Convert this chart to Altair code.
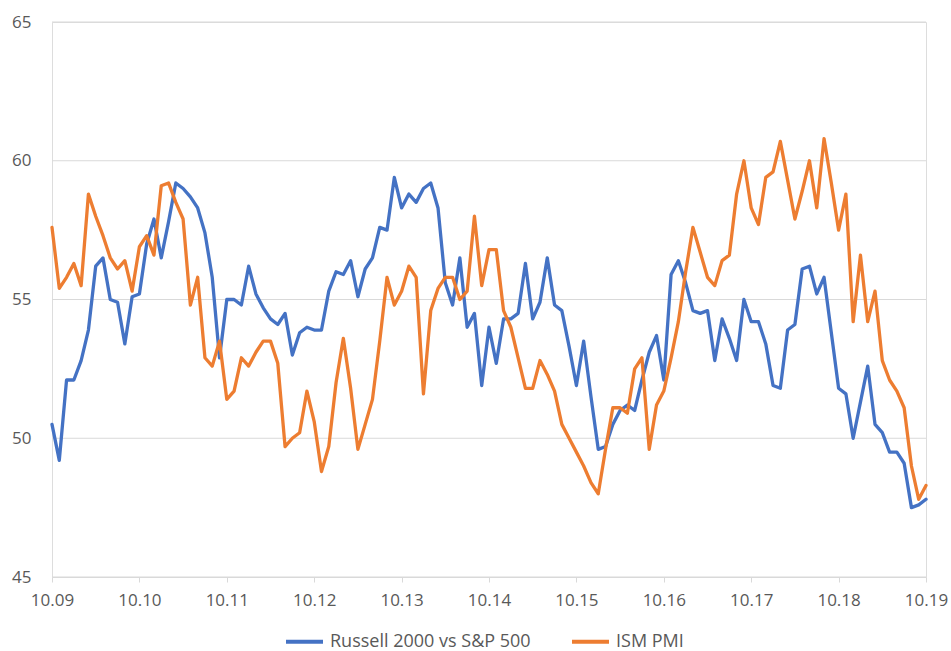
import json
import altair as alt
import pandas as pd

x_labels = ["10.09", "10.10", "10.11", "10.12", "10.13", "10.14",
            "10.15", "10.16", "10.17", "10.18", "10.19"]
series_names = ["Russell 2000 vs S&P 500", "ISM PMI"]
series_colors = ["#4472C4", "#ED7D31"]

russell = [
    50.5, 49.2, 52.1, 52.1, 52.8, 53.9, 56.2, 56.5, 55.0, 54.9, 53.4, 55.1,
    55.2, 57.0, 57.9, 56.5, 57.8, 59.2, 59.0, 58.7, 58.3, 57.4, 55.8, 52.9,
    55.0, 55.0, 54.8, 56.2, 55.2, 54.7, 54.3, 54.1, 54.5, 53.0, 53.8, 54.0,
    53.9, 53.9, 55.3, 56.0, 55.9, 56.4, 55.1, 56.1, 56.5, 57.6, 57.5, 59.4,
    58.3, 58.8, 58.5, 59.0, 59.2, 58.3, 55.6, 54.8, 56.5, 54.0, 54.5, 51.9,
    54.0, 52.7, 54.3, 54.3, 54.5, 56.3, 54.3, 54.9, 56.5, 54.8, 54.6, 53.3,
    51.9, 53.5, 51.5, 49.6, 49.7, 50.5, 51.0, 51.2, 51.0, 52.1, 53.1, 53.7,
    52.1, 55.9, 56.4, 55.6, 54.6, 54.5, 54.6, 52.8, 54.3, 53.6, 52.8, 55.0,
    54.2, 54.2, 53.4, 51.9, 51.8, 53.9, 54.1, 56.1, 56.2, 55.2, 55.8, 53.8,
    51.8, 51.6, 50.0, 51.3, 52.6, 50.5, 50.2, 49.5, 49.5, 49.1, 47.5, 47.6,
    47.8,
]
ism_pmi = [
    57.6, 55.4, 55.8, 56.3, 55.5, 58.8, 58.0, 57.3, 56.5, 56.1, 56.4, 55.3,
    56.9, 57.3, 56.6, 59.1, 59.2, 58.5, 57.9, 54.8, 55.8, 52.9, 52.6, 53.5,
    51.4, 51.7, 52.9, 52.6, 53.1, 53.5, 53.5, 52.7, 49.7, 50.0, 50.2, 51.7,
    50.6, 48.8, 49.7, 52.0, 53.6, 51.8, 49.6, 50.5, 51.4, 53.5, 55.8, 54.8,
    55.3, 56.2, 55.8, 51.6, 54.6, 55.4, 55.8, 55.8, 55.0, 55.3, 58.0, 55.5,
    56.8, 56.8, 54.6, 54.0, 52.9, 51.8, 51.8, 52.8, 52.3, 51.7, 50.5, 50.0,
    49.5, 49.0, 48.4, 48.0, 49.6, 51.1, 51.1, 50.9, 52.5, 52.9, 49.6, 51.2,
    51.7, 52.9, 54.2, 56.0, 57.6, 56.7, 55.8, 55.5, 56.4, 56.6, 58.8, 60.0,
    58.3, 57.7, 59.4, 59.6, 60.7, 59.3, 57.9, 58.9, 60.0, 58.3, 60.8, 59.2,
    57.5, 58.8, 54.2, 56.6, 54.2, 55.3, 52.8, 52.1, 51.7, 51.1, 49.0, 47.8,
    48.3,
]
y_ticks = [45, 50, 55, 60, 65]

rows = []
for name, vals in zip(series_names, [russell, ism_pmi]):
    for i, v in enumerate(vals):
        rows.append({"idx": i, "value": v, "series": name})
df = pd.DataFrame(rows)
grid_df = pd.DataFrame({"value": y_ticks})

step = (len(russell) - 1) // (len(x_labels) - 1)
x_tick_vals = [k * step for k in range(len(x_labels))]
label_expr = f"{json.dumps(x_labels)}[round(datum.value / {step})]"

FONT = "Open Sans"
GRAY_TXT = "#595959"
GRID = "#d9d9d9"
W, H = 874, 555

x_scale = alt.Scale(domain=[0, len(russell) - 1], nice=False, zero=False)
y_scale = alt.Scale(domain=[45, 65], nice=False, zero=False)

grid = (
    alt.Chart(grid_df)
    .mark_rule(color=GRID, strokeWidth=1, strokeCap="butt")
    .encode(
        y=alt.Y("value:Q", scale=y_scale),
        x=alt.datum(0, scale=x_scale),
        x2=alt.datum(len(russell) - 1),
    )
)

lines = (
    alt.Chart(df)
    .mark_line(strokeWidth=3.3, strokeJoin="round", strokeCap="round")
    .encode(
        x=alt.X(
            "idx:Q",
            scale=x_scale,
            axis=alt.Axis(
                values=x_tick_vals,
                labelExpr=label_expr,
                title=None,
                grid=False,
                domainColor=GRID,
                tickColor=GRID,
                tickSize=5,
                labelPadding=10,
                labelFlush=False,
                labelFont=FONT,
                labelFontSize=17,
                labelColor=GRAY_TXT,
            ),
        ),
        y=alt.Y(
            "value:Q",
            scale=y_scale,
            axis=alt.Axis(
                values=y_ticks,
                title=None,
                grid=False,
                domain=False,
                ticks=False,
                labelPadding=21,
                labelFlush=False,
                labelFont=FONT,
                labelFontSize=17,
                labelColor=GRAY_TXT,
            ),
        ),
        color=alt.Color(
            "series:N",
            scale=alt.Scale(domain=series_names, range=series_colors),
            sort=series_names,
            legend=alt.Legend(
                title=None,
                orient="none",
                direction="horizontal",
                legendX=232,
                legendY=599,
                symbolType="stroke",
                symbolSize=1369,
                symbolStrokeWidth=4,
                labelOffset=5,
                labelLimit=500,
                columnPadding=33,
                labelFont=FONT,
                labelFontSize=18,
                labelColor=GRAY_TXT,
            ),
        ),
        order="idx:Q",
    )
)

chart = (
    alt.layer(grid, lines)
    .properties(
        width=W,
        height=H,
        autosize=alt.AutoSizeParams(type="none"),
        padding={"left": 52, "top": 22, "right": 25, "bottom": 74},
    )
    .configure_view(strokeWidth=0)
    .configure(background="white")
)

chart.save("out.html", embed_options={"renderer": "svg", "actions": False})
